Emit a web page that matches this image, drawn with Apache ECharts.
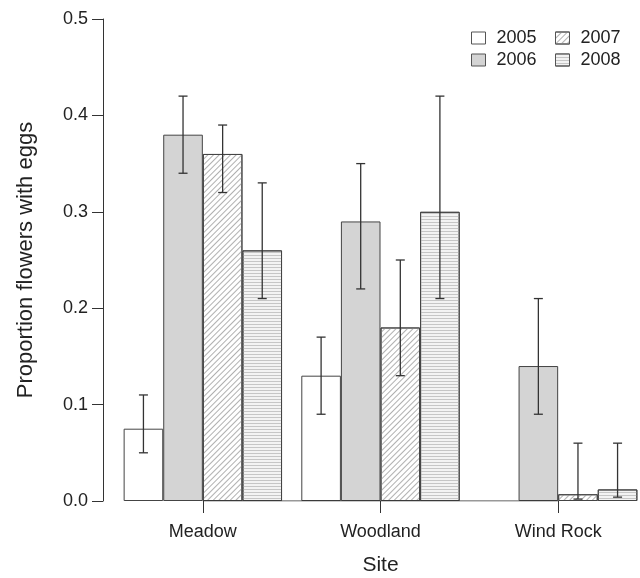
<!DOCTYPE html>
<html>
<head>
<meta charset="utf-8">
<script src="https://cdn.jsdelivr.net/npm/echarts@6/dist/echarts.min.js"></script>
<style>
  html, body { margin: 0; padding: 0; background: #fff; }
  #chart { width: 640px; height: 578px; }
</style>
</head>
<body>
<div id="chart"></div>
<script>
const sites = ['Meadow', 'Woodland', 'Wind Rock']
const years = ['2005', '2006', '2007', '2008']

// proportion of flowers with eggs, per site (null = no bar)
const p2005 = [0.075, 0.13, null]
const p2006 = [0.38, 0.29, 0.14]
const p2007 = [0.36, 0.18, 0.007]
const p2008 = [0.26, 0.30, 0.012]

// error bar ends
const lo2005 = [0.05, 0.09, null]
const hi2005 = [0.11, 0.17, null]
const lo2006 = [0.34, 0.22, 0.09]
const hi2006 = [0.42, 0.35, 0.21]
const lo2007 = [0.32, 0.13, 0.002]
const hi2007 = [0.39, 0.25, 0.06]
const lo2008 = [0.21, 0.21, 0.004]
const hi2008 = [0.33, 0.42, 0.06]

const yTicks = [0, 0.1, 0.2, 0.3, 0.4, 0.5]

const BAR_W = 39.6
const INK = '#333'
const FONT = 'Liberation Sans, Arial, sans-serif'

const values = [p2005, p2006, p2007, p2008]
const lows = [lo2005, lo2006, lo2007, lo2008]
const highs = [hi2005, hi2006, hi2007, hi2008]

const fills = [
  { color: '#fff' },
  { color: '#d4d4d4' },
  { color: '#fff', decal: { symbol: 'rect', dashArrayX: [1, 0], dashArrayY: [1, 3], rotation: -Math.PI / 4, color: '#b0b0b0' } },
  { color: '#f3f3f3', decal: { symbol: 'rect', dashArrayX: [1, 0], dashArrayY: [1, 2], rotation: 0, color: '#c6c6c6' } }
]

// error bar rows: [site index, low, high, year index]
const errRows = []
lows.forEach((arr, k) => {
  arr.forEach((lo, i) => {
    if (lo !== null) errRows.push([i, lo, highs[k][i], k])
  })
})

const chart = echarts.init(document.getElementById('chart'))

const barSeries = years.map((y, k) => ({
  name: y,
  type: 'bar',
  data: values[k],
  barWidth: BAR_W,
  barGap: '0%',
  itemStyle: Object.assign({ borderColor: '#444', borderWidth: 1 }, fills[k])
}))

const legendBase = {
  orient: 'vertical',
  top: 24,
  icon: 'rect',
  itemWidth: 14, itemHeight: 12, itemGap: 4,
  textStyle: { fontFamily: FONT, fontSize: 18, color: '#222', padding: [0, 0, 0, 6] },
  itemStyle: { borderColor: '#555', borderWidth: 1 }
}

const option = {
  animation: false,
  textStyle: { fontFamily: FONT },
  // the plot area runs a little past the right edge, as in the original
  grid: { left: 114, top: 19, width: 533, height: 482, outerBoundsMode: 'none' },
  legend: [
    Object.assign({ data: ['2005', '2006'], left: 466 }, legendBase),
    Object.assign({ data: ['2007', '2008'], left: 550 }, legendBase)
  ],
  xAxis: {
    type: 'category',
    data: sites,
    name: 'Site',
    nameLocation: 'middle',
    nameGap: 54,
    nameTextStyle: { fontSize: 21, color: '#222' },
    axisLine: { show: false },
    axisTick: { show: true, alignWithLabel: true, length: 12, lineStyle: { color: INK } },
    axisLabel: { fontSize: 18, color: '#222', margin: 22 }
  },
  yAxis: {
    type: 'value',
    min: 0,
    max: 0.5,
    interval: 0.1,
    offset: 11,
    name: 'Proportion flowers with eggs',
    nameLocation: 'middle',
    nameGap: 66,
    nameRotate: 90,
    nameTextStyle: { fontSize: 22, color: '#222' },
    axisLine: { show: true, lineStyle: { color: INK } },
    axisTick: { show: true, length: 11, lineStyle: { color: INK } },
    axisLabel: {
      fontSize: 18, color: '#222', margin: 15,
      formatter: v => yTicks.includes(+v.toFixed(1)) ? v.toFixed(1) : ''
    },
    splitLine: { show: false }
  },
  series: [
    ...barSeries,
    {
      // R-style x axis line, from first to last site
      name: 'axis',
      type: 'line',
      data: sites.map(() => 0),
      symbol: 'none',
      silent: true,
      lineStyle: { color: INK, width: 1 },
      z: 3
    },
    {
      name: 'err',
      type: 'custom',
      data: errRows,
      encode: { x: 0, y: [1, 2] },
      z: 4,
      renderItem: (params, api) => {
        const cat = api.value(0)
        const k = api.value(3)
        const a = api.coord([cat, api.value(1)])
        const b = api.coord([cat, api.value(2)])
        const x = a[0] + (k - 1.5) * BAR_W
        const cap = 4.5
        const style = { stroke: INK, lineWidth: 1.3 }
        return {
          type: 'group',
          children: [
            { type: 'line', shape: { x1: x, y1: a[1], x2: x, y2: b[1] }, style },
            { type: 'line', shape: { x1: x - cap, y1: a[1], x2: x + cap, y2: a[1] }, style },
            { type: 'line', shape: { x1: x - cap, y1: b[1], x2: x + cap, y2: b[1] }, style }
          ]
        }
      }
    }
  ]
}

chart.setOption(option)
</script>
</body>
</html>
